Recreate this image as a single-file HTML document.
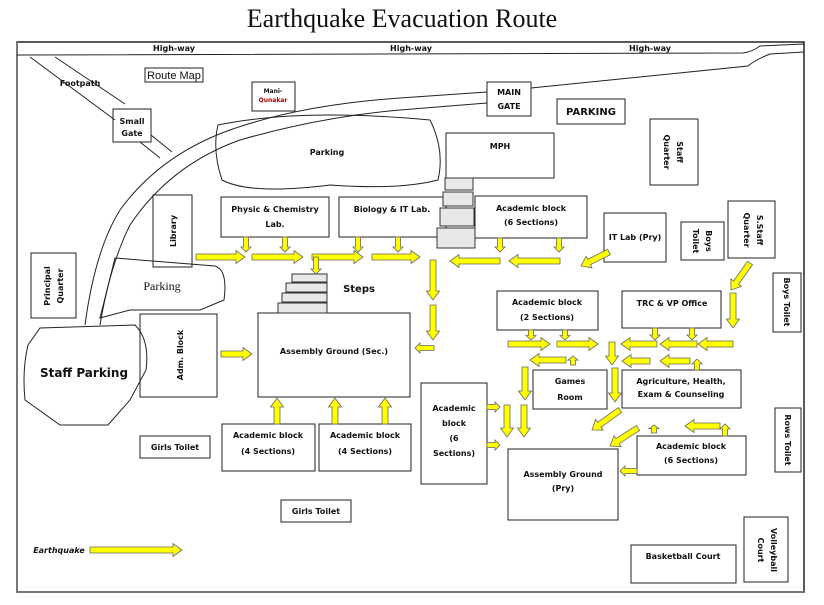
<!DOCTYPE html>
<html><head><meta charset="utf-8"><style>
html,body{margin:0;padding:0;background:#fff;}
svg{display:block;}
text{font-family:"DejaVu Sans","Liberation Sans",sans-serif;font-weight:bold;font-size:10px;fill:#111;}
.s{font-size:8px;}
</style></head><body>
<svg id="m" width="824" height="605" viewBox="0 0 824 605" xmlns="http://www.w3.org/2000/svg">
<text x="402" y="27" text-anchor="middle" style="font-family:'Liberation Serif',serif;font-weight:normal;font-size:26px">Earthquake Evacuation Route</text>
<rect x="17" y="42" width="787" height="550" fill="none" stroke="#222" stroke-width="1.5"/>
<line x1="17" y1="592" x2="804" y2="592" stroke="#777" stroke-width="2"/>
<line x1="17" y1="42" x2="17" y2="592" stroke="#777" stroke-width="2"/>
<g fill="none" stroke="#222" stroke-width="1">
<path d="M17 55 L743 53 Q752 52 760 46 L804 44"/>
<path d="M804 52 L770 54 Q755 60 748 66 L531 88"/>
<path d="M487 92 L400 98 Q300 105 230 130 Q160 155 120 210 Q95 250 85 325"/>
<path d="M487 103 L400 110 Q320 117 240 140 Q170 165 130 225 Q110 265 100 325"/>
<path d="M30 57 L115 120"/><path d="M55 57 L125 104"/>
<path d="M140 142 L160 158"/><path d="M151 135 L172 152"/>
<path d="M218 125 Q300 108 430 120 Q445 150 438 180 Q400 190 330 185 Q250 195 222 180 Q212 150 218 125Z"/>
<path d="M115 258 L215 266 Q228 270 224 300 L200 310 L130 310 L100 318 Z"/>
<path d="M40 328 L135 325 Q150 340 146 370 Q138 385 130 400 L108 425 L60 425 L25 400 Q22 370 28 345 Z"/>
</g>
<g fill="none" stroke="#222" stroke-width="1">
<rect x="113" y="109" width="38" height="33"/><rect x="145" y="68" width="58" height="14"/>
<rect x="252" y="82" width="43" height="29"/><rect x="487" y="82" width="44" height="34"/>
<rect x="557" y="99" width="68" height="25"/><rect x="446" y="133" width="108" height="45"/>
<rect x="650" y="119" width="48" height="66"/><rect x="153" y="195" width="39" height="72"/>
<rect x="221" y="197" width="108" height="40"/><rect x="339" y="197" width="107" height="40"/>
<rect x="475" y="196" width="112" height="42"/><rect x="604" y="213" width="62" height="49"/>
<rect x="681" y="222" width="43" height="38"/><rect x="728" y="201" width="47" height="57"/>
<rect x="773" y="273" width="28" height="59"/><rect x="31" y="253" width="45" height="65"/>
<rect x="140" y="314" width="77" height="83"/><rect x="258" y="313" width="152" height="84"/>
<rect x="140" y="436" width="70" height="22"/><rect x="222" y="424" width="93" height="47"/>
<rect x="319" y="424" width="92" height="47"/><rect x="281" y="500" width="70" height="22"/>
<rect x="497" y="291" width="101" height="39"/><rect x="622" y="291" width="99" height="37"/>
<rect x="533" y="370" width="74" height="39"/><rect x="622" y="370" width="119" height="38"/>
<rect x="421" y="383" width="66" height="101"/><rect x="508" y="449" width="110" height="71"/>
<rect x="637" y="436" width="109" height="39"/><rect x="775" y="408" width="26" height="64"/>
<rect x="744" y="517" width="44" height="65"/><rect x="631" y="545" width="105" height="38"/>
</g>
<g fill="#e8e8e8" stroke="#333" stroke-width="1">
<rect x="445" y="178" width="28" height="12"/><rect x="443" y="192" width="30" height="14"/>
<rect x="440" y="208" width="34" height="18"/><rect x="437" y="228" width="38" height="20"/>
<rect x="292" y="274" width="35" height="8"/><rect x="286" y="283" width="41" height="9"/>
<rect x="282" y="293" width="45" height="9"/><rect x="278" y="303" width="49" height="10"/>
</g>
<g class="lbl">
<text x="174" y="51" class="s" text-anchor="middle">High-way</text>
<text x="411" y="51" class="s" text-anchor="middle">High-way</text>
<text x="650" y="51" class="s" text-anchor="middle">High-way</text>
<text x="80" y="86" class="s" text-anchor="middle">Footpath</text>
<text x="174" y="79" text-anchor="middle" style="font-weight:normal;font-size:11px;font-family:'Liberation Sans',sans-serif">Route Map</text>
<text x="273" y="93" text-anchor="middle" style="font-size:6px">Mani-</text>
<text x="273" y="102" text-anchor="middle" style="font-size:6px;fill:#a00">Qunakar</text>
<text x="132" y="124" class="s" text-anchor="middle">Small</text>
<text x="132" y="136" class="s" text-anchor="middle">Gate</text>
<text x="327" y="155" class="s" text-anchor="middle">Parking</text>
<text x="509" y="95" class="s" text-anchor="middle">MAIN</text>
<text x="509" y="109" class="s" text-anchor="middle">GATE</text>
<text x="591" y="115" text-anchor="middle">PARKING</text>
<text x="500" y="149" class="s" text-anchor="middle">MPH</text>
<text transform="translate(677,152) rotate(90)" class="s" text-anchor="middle">Staff</text>
<text transform="translate(664,152) rotate(90)" class="s" text-anchor="middle">Quarter</text>
<text transform="translate(176,231) rotate(-90)" class="s" text-anchor="middle">Library</text>
<text x="275" y="212" class="s" text-anchor="middle">Physic &amp; Chemistry</text>
<text x="275" y="227" class="s" text-anchor="middle">Lab.</text>
<text x="392" y="212" class="s" text-anchor="middle">Biology &amp; IT Lab.</text>
<text x="531" y="211" class="s" text-anchor="middle">Academic block</text>
<text x="531" y="225" class="s" text-anchor="middle">(6 Sections)</text>
<text x="635" y="240" class="s" text-anchor="middle">IT Lab (Pry)</text>
<text transform="translate(706,241) rotate(90)" class="s" text-anchor="middle">Boys</text>
<text transform="translate(693,241) rotate(90)" class="s" text-anchor="middle">Toilet</text>
<text transform="translate(757,230) rotate(90)" class="s" text-anchor="middle">S.Staff</text>
<text transform="translate(744,230) rotate(90)" class="s" text-anchor="middle">Quarter</text>
<text transform="translate(784,302) rotate(90)" class="s" text-anchor="middle">Boys Toilet</text>
<text transform="translate(50,286) rotate(-90)" class="s" text-anchor="middle">Principal</text>
<text transform="translate(63,286) rotate(-90)" class="s" text-anchor="middle">Quarter</text>
<text x="162" y="290" text-anchor="middle" style="font-family:'Liberation Serif',serif;font-weight:normal;font-size:12px">Parking</text>
<text x="359" y="292" text-anchor="middle">Steps</text>
<text x="84" y="377" text-anchor="middle" style="font-size:12px">Staff Parking</text>
<text transform="translate(183,355) rotate(-90)" class="s" text-anchor="middle">Adm. Block</text>
<text x="334" y="354" class="s" text-anchor="middle">Assembly Ground (Sec.)</text>
<text x="175" y="450" class="s" text-anchor="middle">Girls Toilet</text>
<text x="268" y="438" class="s" text-anchor="middle">Academic block</text>
<text x="268" y="454" class="s" text-anchor="middle">(4 Sections)</text>
<text x="365" y="438" class="s" text-anchor="middle">Academic block</text>
<text x="365" y="454" class="s" text-anchor="middle">(4 Sections)</text>
<text x="316" y="514" class="s" text-anchor="middle">Girls Toilet</text>
<text x="59" y="553" class="s" text-anchor="middle" style="font-style:italic">Earthquake</text>
<text x="547" y="305" class="s" text-anchor="middle">Academic block</text>
<text x="547" y="320" class="s" text-anchor="middle">(2 Sections)</text>
<text x="672" y="306" class="s" text-anchor="middle">TRC &amp; VP Office</text>
<text x="570" y="384" class="s" text-anchor="middle">Games</text>
<text x="570" y="400" class="s" text-anchor="middle">Room</text>
<text x="681" y="384" class="s" text-anchor="middle">Agriculture, Health,</text>
<text x="681" y="397" class="s" text-anchor="middle">Exam &amp; Counseling</text>
<text x="454" y="411" class="s" text-anchor="middle">Academic</text>
<text x="454" y="426" class="s" text-anchor="middle">block</text>
<text x="454" y="441" class="s" text-anchor="middle">(6</text>
<text x="454" y="456" class="s" text-anchor="middle">Sections)</text>
<text x="563" y="477" class="s" text-anchor="middle">Assembly Ground</text>
<text x="563" y="491" class="s" text-anchor="middle">(Pry)</text>
<text x="691" y="449" class="s" text-anchor="middle">Academic block</text>
<text x="691" y="463" class="s" text-anchor="middle">(6 Sections)</text>
<text transform="translate(785,440) rotate(90)" class="s" text-anchor="middle">Rows Toilet</text>
<text transform="translate(771,550) rotate(90)" class="s" text-anchor="middle">Volleyball</text>
<text transform="translate(758,550) rotate(90)" class="s" text-anchor="middle">Court</text>
<text x="683" y="559" class="s" text-anchor="middle">Basketball Court</text>
</g>
<g id="ar"></g>
</svg>
<script>
var A=[[196,257,245,257],[252,257,303,257],[312,257,363,257],[372,257,420,257],
[246,237,246,252],[285,237,285,252],[358,237,358,252],[398,237,398,252],[316,257,316,274],
[500,261,450,261],[560,261,509,261],[500,238,500,252],[559,238,559,252],[609,252,581,266],
[433,260,433,300],[433,305,433,340],[434,348,415,348],[221,354,252,354],
[277,424,277,398],[335,424,335,398],[385,424,385,398],[750,263,731,290],[733,293,733,328],
[508,344,550,344],[557,344,598,344],[531,330,531,340],[565,330,565,340],
[657,344,621,344],[697,344,660,344],[733,344,698,344],[655,328,655,340],[692,328,692,340],
[612,342,612,365],[566,360,530,360],[573,365,573,356],[650,361,622,361],[690,361,660,361],[697,370,697,359],
[525,367,525,400],[615,368,615,402],[507,405,507,437],[524,405,524,437],[487,407,500,407],[487,445,500,445],
[620,410,592,430],[638,428,610,446],[654,433,654,425],[720,426,685,426],[725,436,725,424],[637,471,620,471],
[90,550,182,550]];
var g=document.getElementById('ar'),h='';
A.forEach(function(a){var dx=a[2]-a[0],dy=a[3]-a[1],L=Math.hypot(dx,dy),ux=dx/L,uy=dy/L,px=-uy,py=ux;
var w=L<20?2.5:3,hw=L<20?5:6.5,hl=Math.min(L<20?5:9,L*0.45),bx=a[2]-ux*hl,by=a[3]-uy*hl;
var p=[[a[0]+px*w,a[1]+py*w],[bx+px*w,by+py*w],[bx+px*hw,by+py*hw],[a[2],a[3]],[bx-px*hw,by-py*hw],[bx-px*w,by-py*w],[a[0]-px*w,a[1]-py*w]];
h+='<polygon points="'+p.map(function(q){return q[0].toFixed(1)+','+q[1].toFixed(1)}).join(' ')+'" fill="#ffff00" stroke="#666" stroke-width="0.8"/>';});
g.innerHTML=h;
</script>
</body></html>
